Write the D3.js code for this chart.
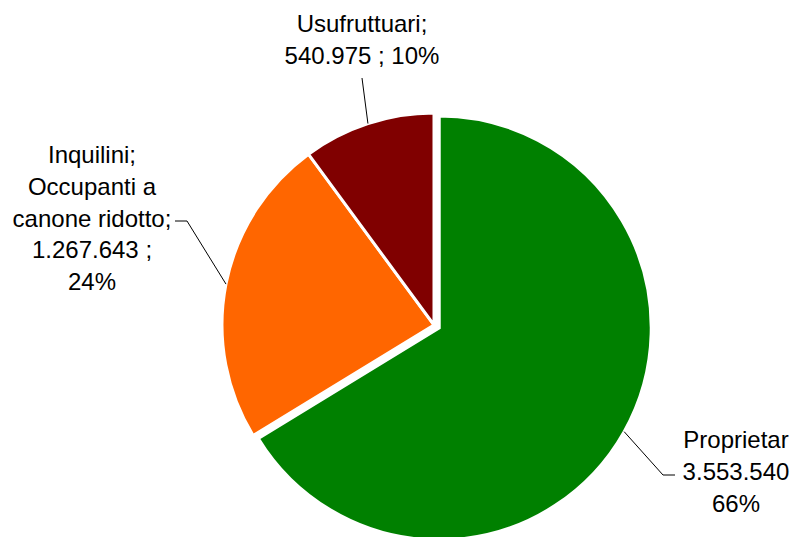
<!DOCTYPE html>
<html>
<head>
<meta charset="utf-8">
<script src="https://cdn.jsdelivr.net/npm/d3@7"></script>
<style>
  body { margin: 0; background: #fff; }
  text { font-family: "Liberation Sans", Arial, sans-serif; font-size: 24px; fill: #000; }
</style>
</head>
<body>
<div id="chart"></div>
<script>
var categories = ['Proprietari', 'Inquilini; Occupanti a canone ridotto', 'Usufruttuari'];
var values = [3553540, 1267643, 540975];
var colors = ['#008000', '#FF6600', '#800000'];
// label lines as shown in the chart (Excel wraps/truncates them)
var labelLines = [
    ['Proprietar', '3.553.540', '66%'],
    ['Inquilini;', 'Occupanti a', 'canone ridotto;', '1.267.643 ;', '24%'],
    ['Usufruttuari;', '540.975 ; 10%']
];

var W = 793, H = 537;
var cx = 434, cy = 325, R = 212;

var svg = d3.select('#chart').append('svg')
    .attr('width', W)
    .attr('height', H);

var pie = d3.pie().sort(null).value(function (d) { return d; });
var arcs = pie(values);
var arc = d3.arc().innerRadius(0).outerRadius(R);

// label placement: text centre x, first baseline y, elbow end of leader line
var labelPos = [
    { x: 736, y: 448, elbow: [663, 475], end: [675, 475] },
    { x: 92, y: 163, elbow: [187, 221], end: [175, 221] },
    { x: 362, y: 32, elbow: [362, 78], end: null }
];
var explode = [6, 0, 0];

var g = svg.append('g').attr('transform', 'translate(' + cx + ',' + cy + ')');

arcs.forEach(function (a, i) {
    var mid = (a.startAngle + a.endAngle) / 2;
    var dx = explode[i] * Math.sin(mid), dy = -explode[i] * Math.cos(mid);
    g.append('path')
        .attr('d', arc(a))
        .attr('transform', 'translate(' + dx + ',' + dy + ')')
        .attr('fill', colors[i])
        .attr('stroke', '#fff')
        .attr('stroke-width', 3)
        .attr('stroke-linejoin', 'miter');

    // leader line from slice edge midpoint
    var sx = cx + dx + R * Math.sin(mid), sy = cy + dy - R * Math.cos(mid);
    var p = labelPos[i];
    var pts = [[sx, sy], p.elbow];
    if (p.end) pts.push(p.end);
    svg.append('path')
        .attr('d', d3.line()(pts))
        .attr('fill', 'none')
        .attr('stroke', '#000')
        .attr('stroke-width', 1);

    var t = svg.append('text').attr('text-anchor', 'middle');
    labelLines[i].forEach(function (ln, j) {
        t.append('tspan').attr('x', p.x).attr('y', p.y + j * 31.8).text(ln);
    });
});
</script>
</body>
</html>
